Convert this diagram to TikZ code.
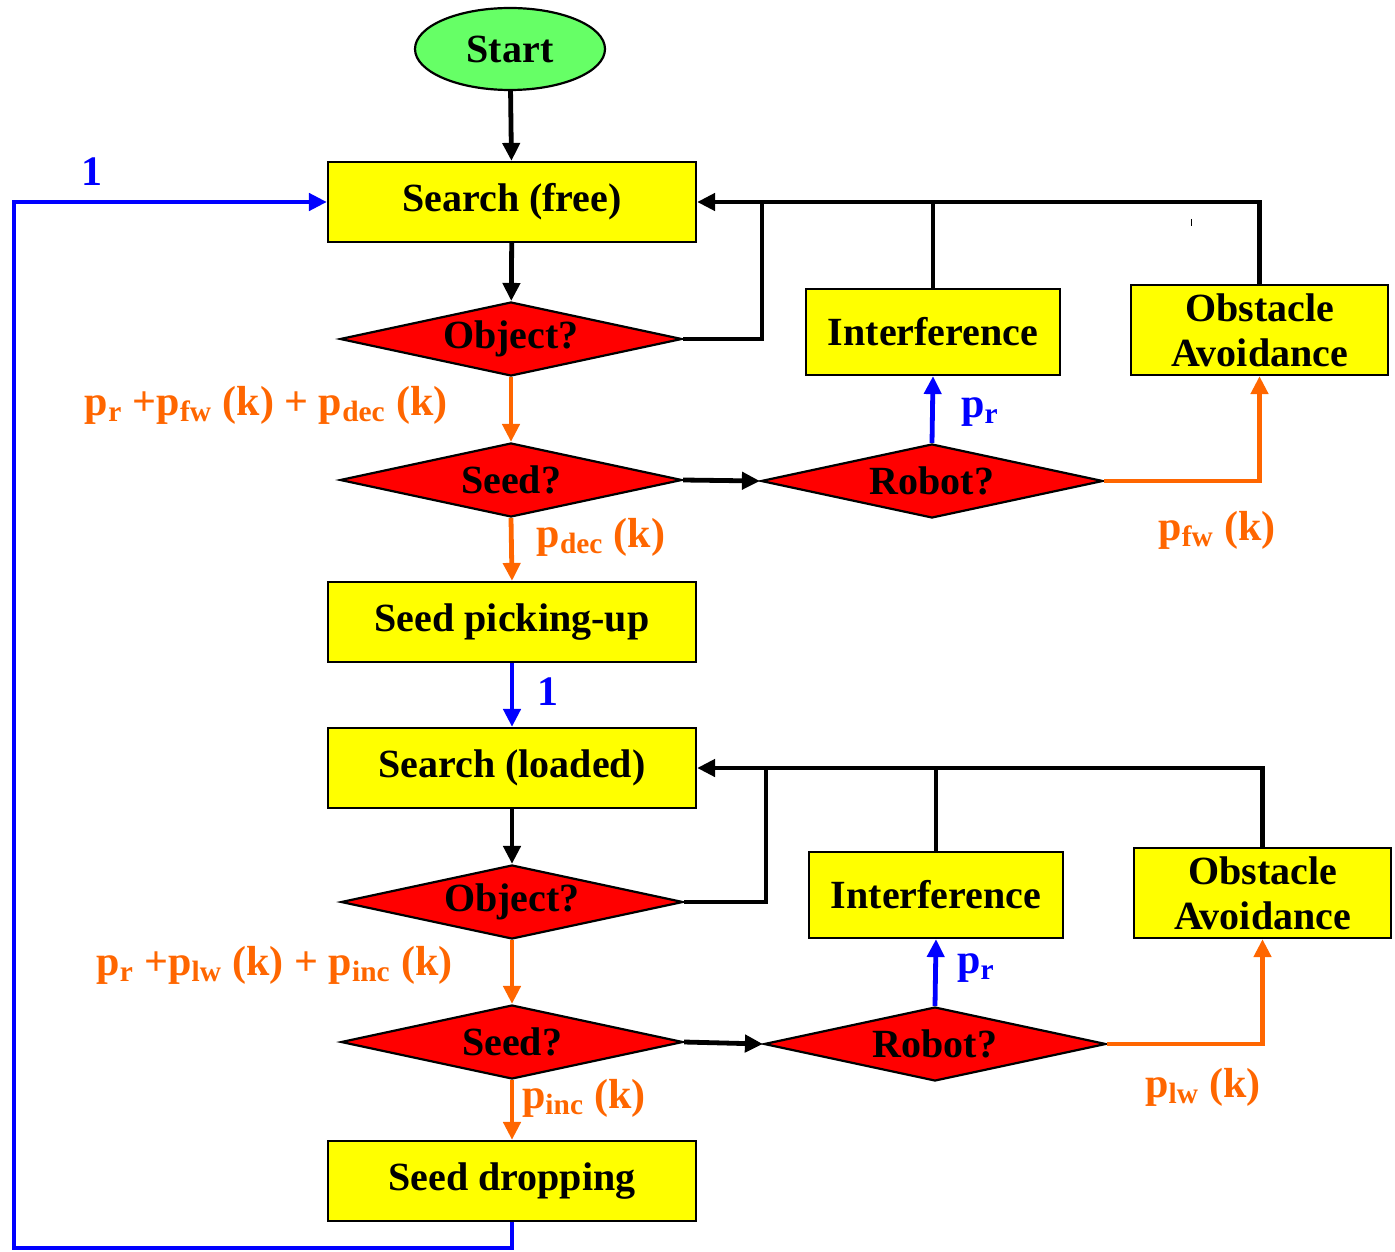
\documentclass[tikz,border=0pt]{standalone}
\usepackage{fontspec}
\setmainfont{Liberation Serif}
\usetikzlibrary{shapes.geometric,arrows.meta}
\definecolor{boxyellow}{HTML}{FFFF00}
\definecolor{decred}{HTML}{FF0000}
\definecolor{startgreen}{HTML}{66FF66}
\definecolor{probor}{HTML}{FF6600}
\definecolor{probbl}{HTML}{0000FF}
\newcommand{\boxfont}{\fontsize{20}{22.5}\selectfont\bfseries}
\newcommand{\labfont}{\fontsize{21}{22}\selectfont\bfseries}
\tikzset{
  procbox/.style={draw, line width=1.1pt, fill=boxyellow, inner sep=0pt,
    minimum width=184pt, minimum height=40pt, font=\boxfont, align=center},
  sidebox/.style={procbox, minimum width=127pt, minimum height=43pt},
  obsbox/.style={procbox, minimum width=128.5pt, minimum height=45pt},
  decision/.style={diamond, draw, line width=1.1pt, fill=decred, inner sep=0pt,
    minimum width=171pt, minimum height=37pt, aspect=4.6, font=\boxfont},
  startnode/.style={ellipse, draw, line width=1.1pt, fill=startgreen, inner sep=0pt,
    minimum width=95pt, minimum height=41pt, font=\boxfont},
  tip/.style={-{Triangle[length=9pt,width=8.5pt]}},
  flow/.style={tip, line width=2.4pt, black},
  plain/.style={line width=2.4pt, black},
  oflow/.style={tip, line width=2.4pt, probor},
  bflow/.style={tip, line width=2.4pt, probbl},
  olab/.style={text=probor, font=\labfont, inner sep=0pt},
  blab/.style={text=probbl, font=\labfont, inner sep=0pt},
}
\begin{document}
\begin{tikzpicture}[x=0.5pt,y=-0.5pt]
\useasboundingbox (0,0) rectangle (1395,1251);

% main column
\node[startnode] (start) at (510,49) {Start};
\node[procbox] (s1) at (512,202) {Search (free)};
\node[decision] (o1) at (511,339) {Object?};
\node[decision] (se1) at (511,480) {Seed?};
\node[decision] (r1) at (932,481) {Robot?};
\node[sidebox] (in1) at (933,332) {Interference};
\node[obsbox] (ob1) at (1259.5,330) {Obstacle\\Avoidance};
\node[procbox] (pk) at (512,622) {Seed picking-up};

\node[procbox] (s2) at (512,768) {Search (loaded)};
\node[decision] (o2) at (512,902) {Object?};
\node[decision] (se2) at (512,1042) {Seed?};
\node[decision] (r2) at (935,1044) {Robot?};
\node[sidebox] (in2) at (936,895) {Interference};
\node[obsbox] (ob2) at (1262.5,893) {Obstacle\\Avoidance};
\node[procbox] (dr) at (512,1181) {Seed dropping};

\coordinate (j1) at (762,339);
\coordinate (j2) at (766,902);
\coordinate (loopc) at (14,1248);

% first search loop
\draw[flow] (start) -- (s1);
\draw[flow] (s1) -- (o1);
\draw[plain] (o1.east) -- (j1) -- (j1 |- s1.east);
\draw[plain] (in1.north) -- (in1.north |- s1.east);
\draw[flow] (ob1.north) |- (s1.east);
\draw[oflow] (o1.south) -- (se1.north);
\draw[flow] (se1.east) -- (r1.west);
\draw[bflow] (r1.north) -- (in1.south);
\draw[oflow] (r1.east) -| (ob1.south);
\draw[oflow] (se1.south) -- (pk.north);
\draw[bflow] (pk.south) -- (s2.north);

% second search loop
\draw[flow] (s2) -- (o2);
\draw[plain] (o2.east) -- (j2) -- (j2 |- s2.east);
\draw[plain] (in2.north) -- (in2.north |- s2.east);
\draw[flow] (ob2.north) |- (s2.east);
\draw[oflow] (o2.south) -- (se2.north);
\draw[flow] (se2.east) -- (r2.west);
\draw[bflow] (r2.north) -- (in2.south);
\draw[oflow] (r2.east) -| (ob2.south);
\draw[oflow] (se2.south) -- (dr.north);

% return path
\draw[bflow] (dr.south) |- (loopc) |- (s1.west);

% probability labels
\node[olab, anchor=east] (l1) at (448,405) {p\textsubscript{r} +p\textsubscript{fw} (k) + p\textsubscript{dec} (k)};
\node[blab] (l2) at (980,412) {p\textsubscript{r}};
\node[olab] (l3) at (1217,530) {p\textsubscript{fw} (k)};
\node[olab] (l4) at (601,537) {p\textsubscript{dec} (k)};
\node[blab] (l5) at (548,692) {1};
\node[blab] (l6) at (92,172) {1};
\node[olab, anchor=east] (l7) at (453,965) {p\textsubscript{r} +p\textsubscript{lw} (k) + p\textsubscript{inc} (k)};
\node[blab] (l8) at (976,968) {p\textsubscript{r}};
\node[olab] (l9) at (1203,1087) {p\textsubscript{lw} (k)};
\node[olab] (l10) at (584,1098) {p\textsubscript{inc} (k)};

% small tick
\draw[line width=0.5pt] (1191,219) -- (1191,226);
\end{tikzpicture}
\end{document}
